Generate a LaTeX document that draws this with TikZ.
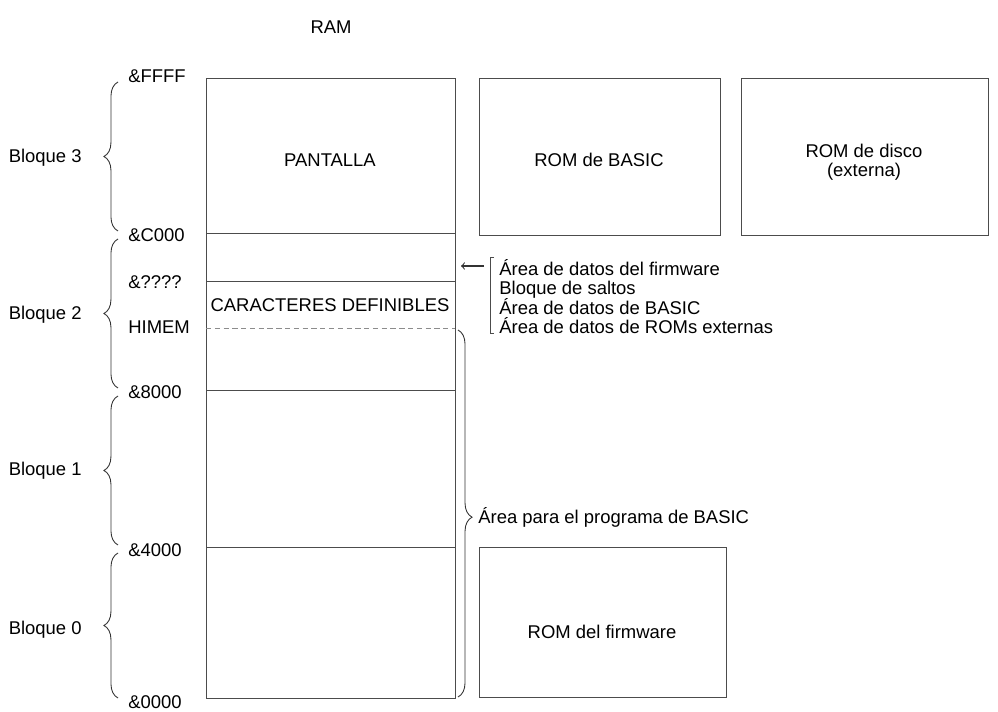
\documentclass[tikz,border=0pt]{standalone}
\usepackage{fontspec}
\setmainfont{Liberation Sans}
\usetikzlibrary{decorations.pathreplacing}

\begin{document}
\begin{tikzpicture}[x=0.02cm, y=-0.02cm,
  font=\fontsize{10.5}{12}\selectfont,
  caja/.style={draw=black!70, line width=0.5pt},
  llave/.style={draw=black!80, line width=0.5pt, decorate,
    decoration={brace, amplitude=8pt}},
  dir/.style={anchor=west, inner sep=0pt},
  bloque/.style={anchor=east, inner sep=0pt}]

  \useasboundingbox (0,0) rectangle (998,712);

  % título
  \node (ram) at (331,27) {RAM};

  % columna de la RAM
  \draw[caja] (206,78) rectangle (455,698);
  \draw[caja] (206,233) -- (455,233);
  \draw[caja] (206,281) -- (455,281);
  \draw[caja, densely dashed, black!45] (206,328) -- (455,328);
  \draw[caja] (206,390) -- (455,390);
  \draw[caja] (206,547) -- (455,547);

  \node (pantalla) at (330,160) {PANTALLA};
  \node (caracteres) at (330,305) {CARACTERES DEFINIBLES};

  % las ROMs
  \draw[caja] (479,78) rectangle (720,235);
  \node (rombasic) at (599,160) {ROM de BASIC};
  \draw[caja] (741,78) rectangle (988,235);
  \node[align=center, font=\fontsize{10.5}{11}\selectfont] (romdisco) at (864,162) {ROM de disco\\(externa)};
  \draw[caja] (479,547) rectangle (726,697);
  \node (romfirm) at (602,632) {ROM del firmware};

  % direcciones
  \node[dir] (dFFFF) at (128,76) {\&FFFF};
  \node[dir] (dC000) at (128,235) {\&C000};
  \node[dir] (dvar) at (128,282) {\&????};
  \node[dir] (himem) at (128,327) {HIMEM};
  \node[dir] (d8000) at (128,392) {\&8000};
  \node[dir] (d4000) at (128,550) {\&4000};
  \node[dir] (d0000) at (128,702) {\&0000};

  % bloques de 16K
  \draw[llave] (118,231) -- (118,82);
  \draw[llave] (118,388) -- (118,239);
  \draw[llave] (118,545) -- (118,396);
  \draw[llave] (118,698) -- (118,553);
  \node[bloque] (b3) at (82,158) {Bloque 3};
  \node[bloque] (b2) at (82,315) {Bloque 2};
  \node[bloque] (b1) at (82,471) {Bloque 1};
  \node[bloque] (b0) at (82,630) {Bloque 0};

  % zona entre &C000 y &????
  \node[anchor=north west, inner sep=0pt, align=left] (datos) at (499,259)
       {Área de datos del firmware\\[-0.9pt]Bloque de saltos\\[-0.9pt]Área de datos de BASIC\\[-0.9pt]Área de datos de ROMs externas};
  \draw[caja] (494,257) -- (490,257) -- (490,333) -- (494,333);
  \coordinate (flecha) at (484,266);
  \coordinate (borde) at (461,266);
  \draw[->, black!80, line width=0.6pt] (flecha) -- (borde);

  % programa de BASIC
  \draw[llave, decoration={brace, amplitude=8pt, aspect=0.51}] (458,330) -- (458,697);
  \node[dir] (programa) at (478,517) {Área para el programa de BASIC};

\end{tikzpicture}
\end{document}
